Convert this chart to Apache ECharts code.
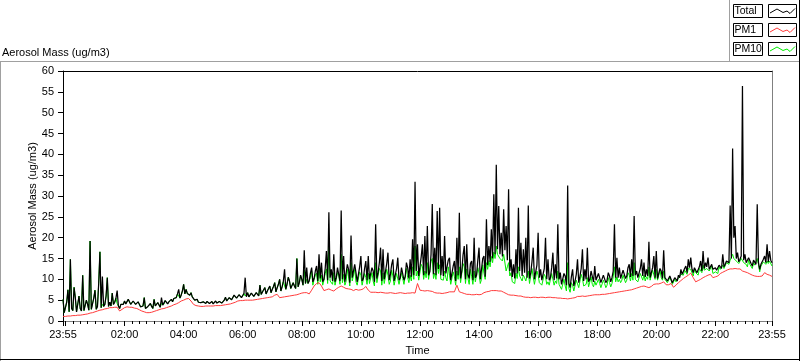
<!DOCTYPE html>
<html>
<head>
<meta charset="utf-8">
<script src="https://cdn.jsdelivr.net/npm/echarts@6/dist/echarts.min.js"></script>
<style>
html,body{margin:0;padding:0;background:#fff;}
#chart{width:800px;height:361px;}
</style>
</head>
<body>
<div id="chart"></div>
<script>
// ---- data: readings every 5 minutes starting 23:55 (xxxMass), plus the reading
// half-way in between each pair (xxxMid, taken 2.5 minutes later) ----
const startLabel = '23:55';
const stepMinutes = 5;
const seriesNames = ['Total', 'PM1', 'PM10'];
const timeTickLabels = ['23:55','02:00','04:00','06:00','08:00','10:00','12:00','14:00','16:00','18:00','20:00','22:00','23:55'];

const totalMass = [
5.2,1.8,7.5,14.8,2.5,5.6,2.3,3.0,11.0,2.6,
4.0,19.2,3.0,7.4,3.5,16.6,10.7,4.0,10.4,4.5,
6.7,4.5,7.3,3.0,4.2,4.8,4.4,5.0,4.3,4.6,
4.0,4.2,3.3,5.6,2.8,3.2,3.5,5.2,3.4,4.0,
5.6,4.0,4.8,4.6,5.2,5.4,5.6,7.6,6.2,8.8,
7.6,7.0,6.8,5.6,4.8,4.5,4.4,4.6,4.2,4.6,
4.3,4.1,4.8,4.2,4.9,4.5,5.7,5.0,6.0,5.4,
6.3,5.7,6.4,6.0,10.4,6.8,6.0,6.9,6.2,7.0,
8.6,6.8,8.0,7.2,8.4,7.6,9.2,8.0,10.0,8.2,
12.4,8.8,9.6,8.0,8.4,15.0,9.2,10.0,17.0,12.8,
9.6,12.8,10.2,13.2,16.0,14.0,10.0,16.8,26.1,12.4,
16.0,10.4,13.2,26.5,15.6,9.8,12.4,20.5,10.2,11.6,
9.8,15.6,10.2,14.4,15.6,9.6,12.0,23.2,11.6,17.6,
17.2,10.4,16.4,11.2,14.8,10.0,15.2,10.4,13.2,10.6,
12.8,14.8,19.6,33.4,18.4,11.2,18.4,20.4,22.8,11.8,
28.1,17.6,26.4,27.2,15.6,20.4,11.4,15.2,10.2,14.4,
20.0,26.0,12.0,18.0,18.4,10.2,14.4,20.0,11.0,17.6,
12.4,15.6,24.4,18.0,22.0,30.4,37.5,27.6,21.2,26.8,
22.8,31.6,14.8,13.6,17.2,27.2,18.8,17.2,20.0,27.7,
11.6,17.6,10.2,21.2,12.4,10.0,20.0,14.8,10.4,16.4,
13.6,23.2,11.6,9.0,10.8,32.5,8.0,12.4,9.6,14.8,
10.8,17.2,12.4,17.6,10.0,11.6,13.2,9.6,11.6,9.4,
11.2,9.8,10.8,10.4,23.2,15.2,12.8,10.6,12.4,10.8,
13.6,14.8,25.2,12.0,10.6,14.8,14.0,12.4,19.0,10.8,
15.6,16.8,10.0,12.0,17.0,10.8,9.4,10.6,9.2,10.0,
11.0,12.4,11.6,13.2,14.8,15.2,11.6,12.6,11.6,14.4,
16.8,14.0,15.2,12.8,12.4,12.8,12.2,13.2,16.0,13.6,
14.8,27.7,41.4,22.8,16.4,14.8,56.4,16.0,14.0,14.8,
13.2,14.4,28.0,12.4,13.6,15.6,18.4,16.8,14.0
];
const totalMid = [
2.0,4.5,2.2,3.0,8.1,2.2,6.0,2.4,2.5,5.0,
2.6,2.8,5.5,2.8,9.0,3.2,3.5,6.0,3.5,3.6,
4.0,5.5,3.6,4.0,4.0,4.1,5.2,4.0,4.8,4.0,
4.6,3.4,3.6,3.0,3.5,4.2,3.0,3.6,4.4,3.3,
3.8,4.9,4.1,5.0,4.6,5.0,6.5,5.5,7.2,6.5,
6.6,6.2,5.8,5.0,5.2,4.2,4.8,4.3,4.7,4.2,
4.7,4.5,4.3,4.7,4.3,5.0,4.8,5.6,5.1,6.2,
5.5,6.3,5.6,6.6,5.8,5.8,6.7,5.9,6.8,6.0,
6.4,7.5,6.5,7.8,6.8,8.3,7.0,8.8,7.2,9.5,
7.6,10.5,7.8,9.2,7.8,8.2,11.0,8.6,9.0,9.0,
11.5,9.4,12.0,9.6,10.2,9.4,12.6,9.8,10.4,9.6,
9.4,12.8,9.6,10.0,9.4,13.6,9.2,10.4,13.6,9.4,
13.0,9.6,12.6,9.8,10.0,12.8,9.4,10.2,14.0,9.6,
10.0,13.8,9.8,13.5,9.6,12.6,9.8,12.8,9.8,14.0,
10.2,10.6,11.0,12.0,10.8,15.4,11.0,11.4,11.0,16.0,
11.2,11.0,12.5,11.0,10.8,11.4,14.6,9.8,13.2,9.6,
11.0,10.2,15.8,10.0,11.2,13.8,9.8,10.4,14.6,10.0,
15.0,10.6,13.4,14.2,15.0,16.0,17.2,16.0,15.5,17.0,
14.6,12.0,10.6,10.2,11.4,12.0,10.8,11.6,10.4,10.2,
14.2,10.0,13.4,10.4,9.8,12.6,10.0,9.8,12.8,9.8,
10.2,10.0,8.8,11.4,8.6,9.0,10.6,8.4,11.2,9.2,
12.6,9.6,10.0,9.4,12.0,9.4,9.8,11.4,9.2,11.0,
9.2,11.6,9.4,12.0,10.4,10.4,10.2,12.2,10.2,12.8,
10.6,10.8,11.0,10.4,12.6,10.8,10.6,10.8,10.4,12.8,
10.4,10.2,12.6,10.2,10.4,9.6,10.8,9.2,10.4,9.6,
10.4,11.2,12.6,11.6,12.8,12.4,12.8,11.6,13.0,12.0,
12.6,13.0,12.4,13.6,12.0,12.2,13.4,12.6,13.0,14.4,
14.0,15.0,20.0,15.0,14.2,15.6,14.6,14.0,15.2,13.8,
14.6,13.6,14.0,13.6,14.8,14.0,14.2,14.6
];

const pm1Mass = [
1.1,1.1,1.2,1.2,1.3,1.3,1.4,1.4,1.5,1.6,
1.7,1.9,2.0,2.2,2.4,2.6,2.7,2.9,3.0,3.2,
3.2,3.3,3.3,2.4,2.8,3.2,3.4,3.3,3.3,3.1,
3.0,2.7,2.4,2.2,2.0,2.0,2.1,2.3,2.5,2.7,
2.9,3.0,3.2,3.4,3.6,3.9,4.1,4.4,4.8,5.0,
5.3,5.4,4.8,4.0,3.7,3.6,3.5,3.5,3.6,3.6,
3.6,3.6,3.7,3.7,3.7,3.8,3.9,4.0,4.1,4.3,
4.5,4.8,4.9,4.9,5.0,5.0,5.0,5.0,5.1,5.2,
5.3,5.4,5.5,5.6,5.7,5.8,6.2,6.4,5.6,5.7,
5.8,5.9,6.0,6.1,6.2,6.3,6.5,6.7,6.8,6.8,
6.5,7.4,8.4,9.0,9.2,8.4,7.3,7.5,7.7,7.4,
7.2,7.7,8.1,8.4,8.1,7.8,7.7,7.6,7.3,7.6,
7.4,7.5,7.7,8.3,7.4,6.9,6.9,6.9,6.8,6.9,
6.8,6.7,6.7,6.8,6.7,6.6,6.7,6.8,6.7,6.6,
6.7,6.7,6.8,6.7,9.0,7.4,7.3,7.2,7.3,7.2,
7.1,6.8,6.7,6.7,6.6,6.7,6.8,7.0,7.0,7.0,
8.6,7.0,6.8,6.6,6.4,6.4,6.3,6.3,6.4,6.3,
6.4,6.8,7.0,7.1,7.3,7.3,7.3,7.2,7.2,6.9,
6.6,6.3,6.2,6.2,6.1,6.0,6.0,5.8,5.7,5.7,
5.6,5.7,5.7,5.6,5.7,5.7,5.6,5.7,5.7,5.6,
5.6,5.5,5.5,5.4,5.4,5.3,5.4,5.5,5.6,5.9,
5.9,6.0,5.9,6.0,6.1,6.2,6.3,6.3,6.3,6.4,
6.4,6.5,6.6,6.7,6.8,6.9,7.0,7.1,7.2,7.3,
7.4,7.5,7.7,7.9,8.1,8.3,8.4,8.2,8.0,8.3,
8.8,8.9,8.9,9.1,9.4,8.7,8.7,9.0,8.1,8.6,
9.2,9.7,10.2,10.6,11.0,11.5,10.4,9.4,9.7,10.0,
10.4,10.7,11.0,11.2,10.4,10.6,10.8,11.4,11.7,12.0,
12.3,12.5,12.5,12.6,12.5,12.5,12.0,11.8,11.6,11.3,
11.0,10.8,10.7,10.7,10.8,11.6,11.2,11.0,10.7
];

const pm10Mass = [
5.2,1.8,7.5,14.8,2.5,5.6,2.3,3.0,11.0,2.6,
4.0,19.2,3.0,7.4,3.5,16.6,4.0,4.0,10.4,4.5,
6.7,4.5,4.2,3.0,4.2,4.8,4.4,5.0,4.3,4.6,
4.0,4.2,3.3,5.6,2.8,3.2,3.5,5.2,3.4,4.0,
4.2,4.0,4.8,4.6,5.2,5.4,5.6,6.0,6.2,8.8,
7.6,7.0,6.8,5.6,4.8,4.5,4.4,4.6,4.2,4.6,
4.3,4.1,4.8,4.2,4.9,4.5,5.7,5.0,6.0,5.4,
6.3,5.7,6.4,6.0,6.0,6.8,6.0,6.9,6.2,7.0,
8.6,6.8,8.0,7.2,8.4,7.6,9.2,8.0,10.0,8.2,
8.4,8.8,9.6,8.0,8.4,15.0,9.2,10.0,12.2,10.0,
9.4,12.0,10.0,11.5,13.0,11.0,9.8,12.5,18.0,9.6,
11.6,10.0,11.0,16.0,11.2,9.5,10.6,14.0,9.8,9.4,
8.8,11.0,9.0,10.5,11.5,8.6,9.5,14.0,9.4,12.0,
11.5,8.6,11.0,9.6,10.8,8.8,11.0,8.4,10.2,9.0,
10.4,11.0,13.0,18.0,12.0,9.6,13.0,12.0,14.0,9.8,
15.0,11.5,14.0,13.5,10.4,12.0,9.6,11.0,9.0,10.6,
12.0,13.0,9.6,13.0,12.5,8.8,10.6,12.0,9.2,11.5,
10.0,11.5,14.0,14.5,15.5,16.5,18.0,16.0,15.0,16.0,
12.0,14.0,11.6,9.2,11.5,13.0,10.2,11.0,9.6,12.0,
8.8,10.6,8.6,11.0,9.0,8.4,10.6,9.4,8.8,10.0,
9.6,12.0,8.6,7.4,8.4,14.0,6.9,8.6,7.6,9.6,
8.4,10.2,8.8,10.4,8.2,8.8,9.6,8.2,9.0,8.4,
9.0,8.6,9.2,9.0,13.0,10.6,10.0,9.8,10.6,9.8,
11.0,11.4,14.0,10.4,9.8,11.6,11.0,10.6,13.0,9.8,
12.0,12.4,9.4,10.4,12.0,9.6,9.0,9.8,8.6,9.4,
10.2,11.2,11.0,12.0,12.6,12.4,10.8,11.6,11.0,12.6,
13.4,12.4,12.6,11.6,11.4,11.8,11.4,12.4,13.4,12.6,
13.6,14.6,16.0,15.4,14.4,13.8,15.0,13.6,13.0,13.6,
12.6,13.4,15.0,11.8,12.8,13.8,14.4,14.4,13.2
];
const pm10Mid = [
2.0,4.5,2.2,3.0,8.1,2.2,6.0,2.4,2.5,5.0,
2.6,2.8,5.5,2.8,9.0,3.2,3.5,6.0,3.5,3.6,
4.0,5.5,3.6,4.0,4.0,4.1,5.2,4.0,4.8,4.0,
4.6,3.4,3.6,3.0,3.5,4.2,3.0,3.6,4.4,3.3,
3.8,4.9,4.1,5.0,4.6,5.0,6.5,5.5,7.2,6.5,
6.6,6.2,5.8,5.0,5.2,4.2,4.8,4.3,4.7,4.2,
4.7,4.5,4.3,4.7,4.3,5.0,4.8,5.6,5.1,6.2,
5.5,6.3,5.6,6.6,5.8,5.8,6.7,5.9,6.8,6.0,
6.4,7.5,6.5,7.8,6.8,8.3,7.0,8.8,7.2,9.5,
7.6,10.5,7.8,9.2,7.8,8.2,11.0,8.6,9.0,9.0,
10.4,8.6,11.0,8.8,9.4,8.6,11.4,9.0,9.6,8.8,
8.6,11.6,8.8,9.2,8.6,12.4,8.4,9.6,12.4,8.6,
11.8,8.6,11.4,8.8,9.0,11.6,8.4,9.2,12.6,8.6,
9.0,12.4,8.8,12.2,8.6,11.4,8.8,11.6,8.8,12.6,
9.2,9.6,10.0,10.8,9.8,13.6,10.0,10.4,10.0,14.4,
10.2,10.0,11.4,10.0,9.8,10.4,13.0,8.8,11.8,8.6,
10.0,9.2,13.8,9.0,10.2,12.4,8.8,9.4,12.8,9.0,
13.5,10.0,12.4,13.0,14.0,15.0,16.0,15.0,14.4,15.6,
13.0,10.8,9.4,9.0,10.2,10.8,9.6,10.4,9.2,9.0,
12.6,8.8,12.0,9.2,8.6,11.2,8.8,8.6,11.4,8.6,
9.0,8.8,7.6,10.0,7.2,7.8,9.2,7.2,9.8,8.0,
11.2,8.4,8.8,8.2,10.6,8.2,8.6,10.0,8.0,9.8,
8.0,10.4,8.2,10.6,9.4,9.4,9.2,11.0,9.2,11.6,
9.6,9.8,10.0,9.4,11.4,9.8,9.6,10.0,9.8,12.2,
10.0,9.8,12.2,9.8,10.0,9.2,10.4,8.8,10.0,9.2,
10.0,10.8,12.2,11.2,12.4,12.0,12.4,11.2,12.6,11.6,
12.2,12.6,12.0,13.2,11.6,11.8,13.0,12.2,12.6,14.0,
13.6,14.4,15.0,14.4,13.8,15.0,14.0,13.6,14.6,13.4,
14.0,13.2,13.6,13.2,14.2,13.6,13.8,14.0
];

// ---- helpers ----
function labelToMinute(lbl) {
  const p = lbl.split(':');
  return parseInt(p[0], 10) * 60 + parseInt(p[1], 10);
}
const startMin = labelToMinute(startLabel);
const spanMinutes = (totalMass.length - 1) * stepMinutes;
const tickPos = timeTickLabels.map(function (l, i) {
  if (i === timeTickLabels.length - 1) return spanMinutes;
  return (labelToMinute(l) - startMin + 1440) % 1440;
});
const labelByPos = {};
tickPos.forEach(function (p, i) { labelByPos[p] = timeTickLabels[i]; });

const midnightOffset = (1440 - startMin) % 1440;
const minorTicks = [0];
for (let m = midnightOffset; m <= spanMinutes; m += 15) minorTicks.push(m);
minorTicks.push(spanMinutes);
const majorTicks = [0];
for (let m = midnightOffset; m <= spanMinutes; m += 120) majorTicks.push(m);
majorTicks.push(spanMinutes);

function toPairs(arr) { return arr.map(function (v, i) { return [i * stepMinutes, v]; }); }
function interleave(main, mid) {
  const out = [];
  main.forEach(function (v, i) {
    out.push([i * stepMinutes, v]);
    if (i < mid.length) out.push([i * stepMinutes + stepMinutes / 2, mid[i]]);
  });
  return out;
}

const FONT = 'Liberation Sans';
const chart = echarts.init(document.getElementById('chart'), null, { renderer: 'canvas' });

function legendRow(name, color, y0) {
  return {
    type: 'group',
    children: [
      { type: 'rect', shape: { x: 733.5, y: y0 + 0.5, width: 29, height: 13 }, style: { fill: '#fff', stroke: '#000', lineWidth: 1 } },
      { type: 'text', x: 734.5, y: y0 + 2, style: { text: name, fill: '#000', font: '10.5px "' + FONT + '"', textVerticalAlign: 'top' } },
      { type: 'rect', shape: { x: 768.5, y: y0 + 0.5, width: 28, height: 13 }, style: { fill: '#fff', stroke: '#000', lineWidth: 1 } },
      { type: 'polyline', shape: { points: [[770, y0 + 9], [777, y0 + 5], [783, y0 + 8.5], [787, y0 + 7], [790, y0 + 9.5], [795, y0 + 4.5]] }, style: { stroke: color, lineWidth: 1, fill: null } }
    ]
  };
}

const option = {
  animation: false,
  backgroundColor: '#fff',
  textStyle: { fontFamily: FONT },
  title: {
    text: 'Aerosol Mass (ug/m3)', left: 2, top: 47, padding: 0,
    textStyle: { fontSize: 11, fontWeight: 'normal', color: '#000', fontFamily: FONT }
  },
  grid: { left: 63, right: 28, top: 71, bottom: 39, containLabel: false },
  xAxis: [
    {
      type: 'value', min: 0, max: spanMinutes, position: 'bottom',
      name: 'Time', nameLocation: 'middle', nameGap: 24, nameMoveOverlap: false,
      nameTextStyle: { fontSize: 11, color: '#000', fontFamily: FONT },
      axisLine: { show: true, lineStyle: { color: '#808080', width: 1 } },
      axisTick: { show: true, customValues: minorTicks, length: 3, lineStyle: { color: '#000' } },
      axisLabel: {
        show: true, customValues: tickPos, margin: 8, fontSize: 11, color: '#000', fontFamily: FONT,
        formatter: function (v) { return labelByPos[v] || ''; }
      },
      splitLine: { show: false }
    },
    {
      type: 'value', min: 0, max: spanMinutes, position: 'bottom',
      axisLine: { show: false },
      axisTick: { show: true, customValues: majorTicks, length: 5, lineStyle: { color: '#000' } },
      axisLabel: { show: false },
      splitLine: { show: false }
    },
    {
      type: 'value', min: 0, max: spanMinutes, position: 'top',
      axisLine: { show: true, onZero: false, lineStyle: { color: '#000', width: 1 } },
      axisTick: { show: false }, axisLabel: { show: false }, splitLine: { show: false }
    }
  ],
  yAxis: [
    {
      type: 'value', min: 0, max: 60, interval: 5, position: 'left',
      name: 'Aerosol Mass (ug/m3)', nameLocation: 'middle', nameGap: 25, nameRotate: 90, nameMoveOverlap: false,
      nameTextStyle: { fontSize: 11, color: '#000', fontFamily: FONT },
      axisLine: { show: true, lineStyle: { color: '#000', width: 1 } },
      axisTick: { show: true, length: 5, lineStyle: { color: '#000' } },
      axisLabel: { show: true, margin: 9, fontSize: 11, color: '#000', fontFamily: FONT },
      splitLine: { show: false }
    },
    {
      type: 'value', min: 0, max: 60, interval: 5, position: 'right',
      axisLine: { show: true, onZero: false, lineStyle: { color: '#808080', width: 1 } },
      axisTick: { show: false }, axisLabel: { show: false }, splitLine: { show: false }
    }
  ],
  series: [
    { name: seriesNames[2], type: 'line', data: interleave(pm10Mass, pm10Mid), showSymbol: false, symbol: 'none',
      lineStyle: { color: '#00ee00', width: 1 }, itemStyle: { color: '#00ee00' }, silent: true, z: 2 },
    { name: seriesNames[0], type: 'line', data: interleave(totalMass, totalMid), showSymbol: false, symbol: 'none',
      lineStyle: { color: '#000000', width: 1.25 }, itemStyle: { color: '#000' }, silent: true, z: 3 },
    { name: seriesNames[1], type: 'line', data: toPairs(pm1Mass), showSymbol: false, symbol: 'none',
      lineStyle: { color: '#ff3b3b', width: 1 }, itemStyle: { color: '#ff3b3b' }, silent: true, z: 4 }
  ],
  graphic: [
    { type: 'line', shape: { x1: 0, y1: 61.5, x2: 800, y2: 61.5 }, style: { stroke: '#a0a0a0', lineWidth: 1 } },
    { type: 'line', shape: { x1: 0.5, y1: 61, x2: 0.5, y2: 361 }, style: { stroke: '#a0a0a0', lineWidth: 1 } },
    { type: 'line', shape: { x1: 729.5, y1: 0, x2: 729.5, y2: 62 }, style: { stroke: '#a0a0a0', lineWidth: 1 } },
    { type: 'line', shape: { x1: 799.5, y1: 0, x2: 799.5, y2: 361 }, style: { stroke: '#000', lineWidth: 1 } },
    { type: 'line', shape: { x1: 0, y1: 359.5, x2: 800, y2: 359.5 }, style: { stroke: '#000', lineWidth: 1 } },
    legendRow(seriesNames[0], '#000000', 4),
    legendRow(seriesNames[1], '#ff3b3b', 23),
    legendRow(seriesNames[2], '#00ee00', 42)
  ]
};
chart.setOption(option);
</script>
</body>
</html>
